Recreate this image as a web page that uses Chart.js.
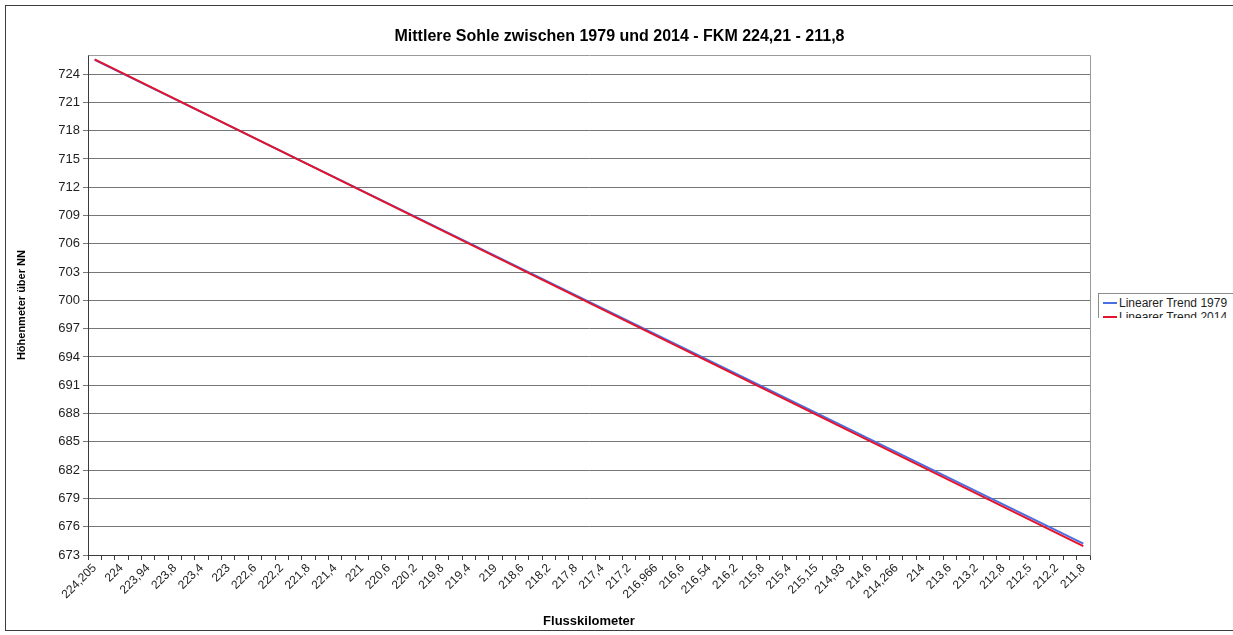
<!DOCTYPE html>
<html>
<head>
<meta charset="utf-8">
<script src="https://cdn.jsdelivr.net/npm/chart.js@4"></script>
<style>
  html, body { margin: 0; padding: 0; background: #fff; }
  #wrap { position: relative; width: 1233px; height: 635px; overflow: hidden; background: #fff; }
  #chart { position: absolute; left: 0; top: 0; }
  #frame { position: absolute; left: 5px; top: 5px; width: 1240px; height: 626px;
           border: 1px solid #3c3c3c; box-sizing: border-box; pointer-events: none; }
  #legend { position: absolute; left: 1098px; top: 293px; width: 150px; height: 24px;
            overflow: hidden; border: 1px solid #8c8c8c; border-bottom: none; background: #fff;
            font: 12px "Liberation Sans", Arial, sans-serif; color: #1e1e1e; }
  #legend .item { position: absolute; left: 4px; height: 13px; line-height: 13px; white-space: nowrap; }
  #legend .swatch { display: inline-block; width: 14px; height: 2px; vertical-align: middle;
                    margin-right: 2px; position: relative; top: -1px; }
</style>
</head>
<body>
<div id="wrap">
  <canvas id="chart" width="1233" height="635"></canvas>
  <div id="frame"></div>
  <div id="legend"></div>
</div>
<script>
// River kilometre labels written on the category axis (every second category)
const kmLabels = [
  "224,205", "224", "223,94", "223,8", "223,4", "223", "222,6", "222,2", "221,8", "221,4",
  "221", "220,6", "220,2", "219,8", "219,4", "219", "218,6", "218,2", "217,8", "217,4",
  "217,2", "216,966", "216,6", "216,54", "216,2", "215,8", "215,4", "215,15", "214,93", "214,6",
  "214,266", "214", "213,6", "213,2", "212,8", "212,5", "212,2", "211,8"
];

// Number of cross sections on the axis
const sectionCount = 75;

// Linear trend lines: elevation at the first and last cross section
const trend1979 = [725.5, 674.2];
const trend2014 = [725.55, 673.95];

// Series names and colours
const seriesNames = ["Linearer Trend 1979", "Linearer Trend 2014"];
const seriesColors = ["#4a6fe0", "#e5132b"];

// Elevation ticks on the value axis
const yTicks = [673, 676, 679, 682, 685, 688, 691, 694, 697, 700, 703, 706, 709, 712, 715, 718, 721, 724];
const yMin = 673;
const yMax = 726;

const FONT = "'Liberation Sans', Arial, sans-serif";

// One category per cross section, only every second one carries a label
const categories = [];
for (let i = 0; i < sectionCount; i++) {
  categories.push(i % 2 === 0 ? kmLabels[i / 2] : "");
}

// Trend line as a series: first and last cross section hold the values, gaps are spanned
function trendSeries(values) {
  const s = new Array(sectionCount).fill(null);
  s[0] = values[0];
  s[sectionCount - 1] = values[1];
  return s;
}

// Thin grey frame around the plot area (top and right edges)
const plotFrame = {
  id: "plotFrame",
  beforeDatasetsDraw(chart) {
    const a = chart.chartArea;
    const c = chart.ctx;
    c.save();
    c.strokeStyle = "#9a9a9a";
    c.lineWidth = 1;
    c.beginPath();
    c.moveTo(Math.round(a.left) + 0.5, Math.round(a.top) + 0.5);
    c.lineTo(Math.round(a.right) + 0.5, Math.round(a.top) + 0.5);
    c.lineTo(Math.round(a.right) + 0.5, Math.round(a.bottom) + 0.5);
    c.stroke();
    c.restore();
  }
};

const chart = new Chart(document.getElementById("chart"), {
  type: "line",
  data: {
    labels: categories,
    datasets: [
      {
        label: seriesNames[0],
        data: trendSeries(trend1979),
        borderColor: seriesColors[0],
        backgroundColor: seriesColors[0],
        borderWidth: 2,
        pointRadius: 0,
        tension: 0,
        spanGaps: true,
        order: 1
      },
      {
        label: seriesNames[1],
        data: trendSeries(trend2014),
        borderColor: seriesColors[1],
        backgroundColor: seriesColors[1],
        borderWidth: 2,
        pointRadius: 0,
        tension: 0,
        spanGaps: true,
        order: 0
      }
    ]
  },
  options: {
    responsive: false,
    animation: false,
    events: [],
    layout: { padding: { left: 6, right: 0, top: 0, bottom: 4 } },
    plugins: {
      legend: { display: false },
      tooltip: { enabled: false },
      title: {
        display: true,
        text: "Mittlere Sohle zwischen 1979 und 2014 - FKM 224,21 - 211,8",
        color: "#000",
        font: { family: FONT, size: 16, weight: "bold" },
        padding: { top: 27, bottom: 9 }
      }
    },
    scales: {
      x: {
        type: "category",
        offset: true,
        grid: {
          offset: true,
          drawOnChartArea: false,
          drawTicks: true,
          tickLength: 5,
          color: "#3a3a3a"
        },
        border: { color: "#3a3a3a", width: 1 },
        ticks: {
          autoSkip: false,
          minRotation: 45,
          maxRotation: 45,
          padding: 1,
          color: "#1e1e1e",
          font: { family: FONT, size: 12 },
          callback: (v, i) => categories[i]
        },
        title: {
          display: true,
          text: "Flusskilometer",
          color: "#000",
          font: { family: FONT, size: 13, weight: "bold" },
          padding: { top: 0, bottom: 2 }
        },
        afterFit(scale) { scale.height = 635 - 555 - 4; }
      },
      y: {
        min: yMin,
        max: yMax,
        grid: { color: "#767676", lineWidth: 1, tickLength: 5 },
        border: { color: "#3a3a3a", width: 1 },
        afterBuildTicks(scale) { scale.ticks = yTicks.map(v => ({ value: v })); },
        ticks: {
          padding: 3,
          color: "#1e1e1e",
          font: { family: FONT, size: 13 }
        },
        title: {
          display: true,
          text: "Höhenmeter über NN",
          color: "#000",
          font: { family: FONT, size: 11, weight: "bold" },
          padding: { top: 9, bottom: 0 }
        },
        afterFit(scale) { scale.width = 82; }
      },
      // empty band on the right that holds the legend box
      legendBand: {
        type: "linear",
        position: "right",
        min: 0,
        max: 1,
        grid: { display: false, drawTicks: false },
        border: { display: false },
        ticks: { display: false },
        afterFit(scale) { scale.width = 1233 - 1090; }
      }
    }
  },
  plugins: [plotFrame]
});

// Legend box on the right, built from the datasets
const legendEl = document.getElementById("legend");
chart.data.datasets.forEach((ds, i) => {
  const item = document.createElement("div");
  item.className = "item";
  item.style.top = (3 + i * 14) + "px";
  const sw = document.createElement("span");
  sw.className = "swatch";
  sw.style.background = ds.borderColor;
  item.appendChild(sw);
  item.appendChild(document.createTextNode(ds.label));
  legendEl.appendChild(item);
});
</script>
</body>
</html>
